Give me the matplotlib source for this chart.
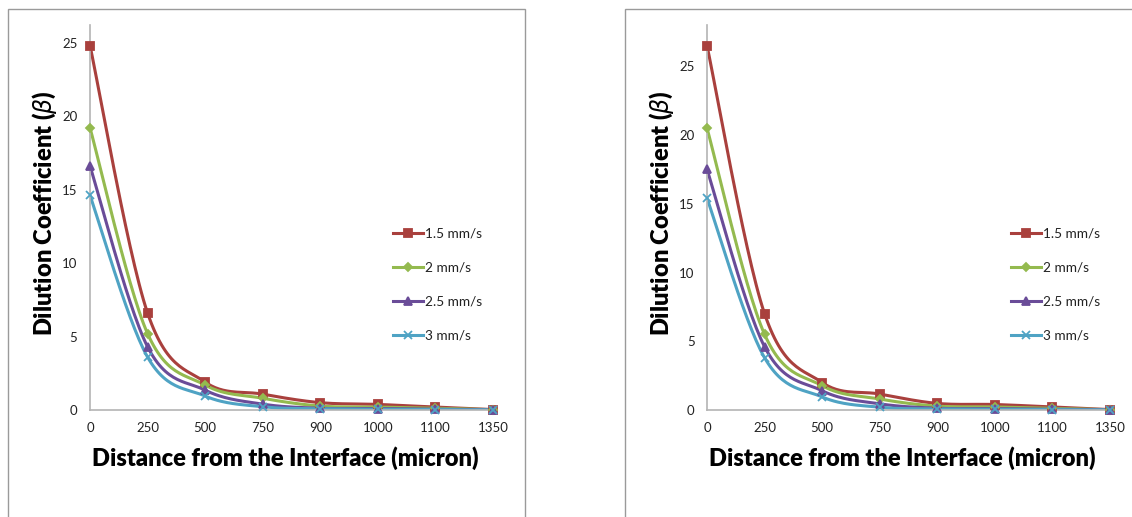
import matplotlib
matplotlib.use("Agg")
import matplotlib.pyplot as plt
import numpy as np
from matplotlib.lines import Line2D
from matplotlib.patches import Rectangle

plt.rcParams['font.family'] = ['Lato', 'DejaVu Sans']
plt.rcParams['mathtext.fontset'] = 'dejavusans'

# distances along the sample (plotted as equally spaced categories)
distance = ['0', '250', '500', '750', '900', '1000', '1100', '1350']
speeds = ['1.5 mm/s', '2 mm/s', '2.5 mm/s', '3 mm/s']

# dilution coefficient, first set of runs
beta_a_15 = [24.8, 6.6, 1.9, 1.08, 0.5, 0.38, 0.2, 0.03]
beta_a_20 = [19.2, 5.2, 1.7, 0.8, 0.27, 0.2, 0.12, 0.02]
beta_a_25 = [16.6, 4.3, 1.35, 0.4, 0.12, 0.1, 0.06, 0.01]
beta_a_30 = [14.6, 3.6, 0.95, 0.22, 0.08, 0.05, 0.03, 0.01]

# dilution coefficient, second set of runs
beta_b_15 = [26.5, 7.0, 2.0, 1.16, 0.48, 0.4, 0.22, 0.03]
beta_b_20 = [20.5, 5.5, 1.77, 0.8, 0.28, 0.22, 0.12, 0.02]
beta_b_25 = [17.5, 4.6, 1.4, 0.45, 0.13, 0.1, 0.06, 0.01]
beta_b_30 = [15.4, 3.8, 0.95, 0.2, 0.08, 0.05, 0.03, 0.01]

colors = ['#A9403D', '#94BA4F', '#6A4C98', '#4FA3C4']
markers = ['s', 'D', '^', 'x']
msizes = [5.5, 4, 6, 6]


def excel_smooth(x, y, n=30):
    # cubic bezier through every point, control points from neighbours (tension 1/6)
    p = np.column_stack([x, y]).astype(float)
    segs = []
    for i in range(len(p) - 1):
        p0 = p[i - 1] if i > 0 else p[i]
        p1, p2 = p[i], p[i + 1]
        p3 = p[i + 2] if i + 2 < len(p) else p[i + 1]
        c1 = p1 + (p2 - p0) / 6
        c2 = p2 - (p3 - p1) / 6
        t = np.linspace(0, 1, n)[:, None]
        seg = (1 - t)**3 * p1 + 3 * (1 - t)**2 * t * c1 + 3 * (1 - t) * t**2 * c2 + t**3 * p2
        segs.append(seg if i == 0 else seg[1:])
    s = np.vstack(segs)
    return s[:, 0], s[:, 1]


W, H = 1132, 517
fig = plt.figure(figsize=(W / 100, H / 100), dpi=100)

# chart borders
fig.add_artist(Rectangle((8 / W, -0.1), (525 - 8) / W, 1.1 - 9 / H,
                         transform=fig.transFigure, fill=False,
                         edgecolor='#9a9a9a', lw=1))
fig.add_artist(Rectangle((625 / W, -0.1), 0.5, 1.1 - 9 / H,
                         transform=fig.transFigure, fill=False,
                         edgecolor='#9a9a9a', lw=1))


def panel(left, ymax, series, leg_x):
    ax = fig.add_axes([left / W, 1 - 410 / H, 403 / W, 385 / H])
    xs = np.arange(len(distance))
    for vals, c, m, ms in zip(series, colors, markers, msizes):
        sx, sy = excel_smooth(xs, vals)
        ax.plot(sx, sy, color=c, lw=2.2, solid_capstyle='round', zorder=2)
        ax.plot(xs, vals, ls='none', marker=m, ms=ms, color=c,
                mec=c, mew=1.3, zorder=3, clip_on=False)
    ax.set_xlim(0, len(distance) - 1)
    ax.set_ylim(0, ymax)
    ax.set_xticks(xs)
    ax.set_xticklabels(distance)
    ax.set_yticks([0, 5, 10, 15, 20, 25])
    for s in ['top', 'right']:
        ax.spines[s].set_visible(False)
    for s in ['left', 'bottom']:
        ax.spines[s].set_color('#b4b4b4')
        ax.spines[s].set_linewidth(1.2)
    ax.tick_params(length=0, labelsize=9.5, colors='#222222', pad=9)
    ax.set_xlabel('Distance from the Interface (micron)', fontsize=17,
                  fontweight='heavy', va='center')
    ax.xaxis.set_label_coords(0.484, -48 / 385)
    ax.set_ylabel(r'Dilution Coefficient ($\beta$)', fontsize=17,
                  fontweight='heavy', va='center')
    ax.yaxis.set_label_coords(-45 / 403, 0.51)

    handles = [Line2D([], [], color=c, lw=2.2, marker=m, ms=ms, mew=1.3)
               for c, m, ms in zip(colors, markers, msizes)]
    ax.legend(handles, speeds, loc='upper left',
              bbox_to_anchor=((leg_x - left) / 403, (410 - 228) / 385),
              frameon=False, fontsize=9.8, handlelength=2.2,
              handletextpad=0.15, labelspacing=1.6, borderpad=0,
              borderaxespad=0, labelcolor='#222222')
    return ax


panel(90, 26.2, [beta_a_15, beta_a_20, beta_a_25, beta_a_30], 393)
panel(707, 28.0, [beta_b_15, beta_b_20, beta_b_25, beta_b_30], 1011)

fig.savefig('out.png', dpi=100)
